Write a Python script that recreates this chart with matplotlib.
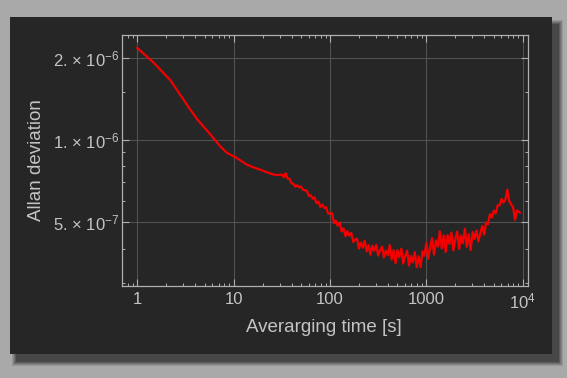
import matplotlib.pyplot as plt
from matplotlib.patches import Rectangle
from matplotlib.ticker import FixedLocator, NullFormatter

plt.rcParams["font.family"] = ["Liberation Sans", "DejaVu Sans"]
plt.rcParams["mathtext.fontset"] = "custom"
plt.rcParams["mathtext.rm"] = "Liberation Sans"
plt.rcParams["mathtext.it"] = "Liberation Sans:italic"
plt.rcParams["mathtext.bf"] = "Liberation Sans:bold"

# averaging time [s] and Allan deviation (in units of 1e-7)
tau_smooth = [1.0, 1.5, 2.2, 2.9, 3.5, 4.3, 5.7, 7.2, 8.5, 10.7, 13.6, 16.0, 18.7, 22.0, 25.6, 28.5]
adev_smooth = [21.7, 19.07, 16.54, 14.34, 12.99, 11.76, 10.50, 9.50, 8.97, 8.60, 8.13, 7.94, 7.79, 7.62, 7.48, 7.43]

tau_noisy = [
    31.6, 33.1, 34.7, 36.3, 38.0, 39.8, 41.7, 43.7, 45.7, 47.9,
    50.1, 52.5, 55.0, 57.5, 60.3, 63.1, 66.1, 69.2, 72.4, 75.9,
    79.4, 83.2, 87.1, 91.2, 95.5, 100, 105, 110, 115, 120,
    126, 132, 138, 145, 151, 158, 166, 174, 182, 191,
    200, 209, 219, 229, 240, 251, 263, 275, 288, 302,
    316, 331, 347, 363, 380, 398, 417, 437, 457, 479,
    501, 525, 550, 575, 603, 631, 661, 692, 724, 759,
    794, 832, 871, 912, 955, 1000, 1047, 1096, 1148, 1202,
    1259, 1318, 1380, 1445, 1514, 1585, 1660, 1738, 1820, 1905,
    1995, 2089, 2188, 2291, 2399, 2512, 2630, 2754, 2884, 3020,
    3162, 3311, 3467, 3631, 3802, 3981, 4169, 4365, 4571, 4786,
    5012, 5248, 5495, 5754, 6026, 6310, 6607, 6918, 7244, 7586,
    7943, 8318, 8710, 9120, 9330,
]
adev_noisy = [
    7.47, 7.30, 7.55, 7.22, 7.21, 6.94, 6.91, 6.74, 6.82, 6.70,
    6.75, 6.57, 6.54, 6.52, 6.23, 6.28, 6.09, 6.16, 5.87, 5.94,
    5.68, 5.80, 5.64, 5.68, 5.38, 5.37, 5.40, 4.96, 5.06, 4.85,
    4.99, 4.62, 4.75, 4.44, 4.64, 4.46, 4.57, 4.24, 4.31, 4.35,
    4.00, 4.21, 4.03, 4.28, 3.91, 4.12, 3.80, 4.10, 3.93, 4.13,
    3.78, 3.94, 4.07, 3.71, 3.94, 3.78, 4.12, 3.65, 3.95, 3.54,
    3.95, 3.72, 4.00, 3.53, 3.76, 3.93, 3.47, 3.76, 3.56, 3.88,
    3.42, 3.75, 3.42, 3.91, 3.77, 4.19, 3.67, 4.06, 4.37, 3.80,
    4.29, 4.07, 4.63, 4.01, 4.47, 3.89, 4.48, 4.16, 4.58, 3.94,
    4.32, 4.62, 3.99, 4.47, 4.19, 4.73, 4.06, 4.52, 3.95, 4.60,
    4.34, 4.66, 4.25, 4.55, 4.84, 4.50, 4.99, 4.92, 5.35, 5.20,
    5.51, 5.38, 5.77, 5.75, 6.08, 5.90, 6.04, 6.58, 5.98, 5.80,
    5.68, 5.10, 5.52, 5.45, 5.42,
]

x_ticks = [1, 10, 100, 1000, 10000]
x_tick_labels = ["1", "10", "100", "1000", "10$^{4}$"]
y_ticks = [5e-7, 1e-6, 2e-6]
y_tick_labels = ["5. × 10$^{-7}$", "1. × 10$^{-6}$", "2. × 10$^{-6}$"]
y_minor = [3e-7, 4e-7, 6e-7, 7e-7, 8e-7, 9e-7, 1.5e-6]

W, H = 567, 378
text_col = "#c4c4c4"
frame_col = "#b0b0b0"
panel_col = "#262626"

fig = plt.figure(figsize=(W / 100, H / 100), dpi=100)
fig.patch.set_facecolor("#a9a9a9")


def fig_rect(x0, y0, x1, y1, **kw):
    # pixel box measured from the top-left corner
    r = Rectangle((x0 / W, 1 - y1 / H), (x1 - x0) / W, (y1 - y0) / H,
                  transform=fig.transFigure, zorder=-5, **kw)
    fig.patches.append(r)


# soft drop shadow, then the dark panel
for grow, a in [(4, 0.10), (3, 0.12), (2, 0.15), (1, 0.18), (0, 0.22)]:
    fig_rect(16 - grow, 24 - grow, 559 + grow, 362 + grow, fc="black", ec="none", alpha=a)
fig_rect(10, 17, 552, 354, fc=panel_col, ec="none")

ax = fig.add_axes([121.7 / W, 1 - 286 / H, (528 - 121.7) / W, (286 - 35) / H])
ax.set_facecolor(panel_col)

tau = tau_smooth + tau_noisy
adev = [v * 1e-7 for v in adev_smooth + adev_noisy]
ax.plot(tau, adev, color="#f40000", lw=1.6, zorder=3)

ax.set_xscale("log")
ax.set_yscale("log")
ax.set_xlim(0.689, 11350)
ax.set_ylim(2.92e-7, 2.42e-6)

ax.set_xticks(x_ticks, x_tick_labels)
ax.set_yticks(y_ticks, y_tick_labels)
ax.yaxis.set_minor_locator(FixedLocator(y_minor))
ax.yaxis.set_minor_formatter(NullFormatter())
ax.xaxis.set_minor_formatter(NullFormatter())

ax.grid(True, which="major", color="#505050", lw=0.8, zorder=0)
for s in ax.spines.values():
    s.set_color(frame_col)
    s.set_linewidth(0.9)
ax.tick_params(which="both", direction="in", top=True, right=True,
               colors=frame_col, labelcolor=text_col, labelsize=12)
ax.tick_params(which="major", length=5, width=0.8)
ax.tick_params(which="minor", length=2.5, width=0.7)
ax.tick_params(axis="x", pad=4)
ax.tick_params(axis="y", pad=2)

ax.set_xlabel("Averarging time [s]", color=text_col, fontsize=13.5)
ax.set_ylabel("Allan deviation", color=text_col, fontsize=13.5)
ax.xaxis.set_label_coords(0.498, -0.13)
ax.yaxis.set_label_coords(-0.19, 0.5)

fig.savefig("out.png", dpi=100, facecolor=fig.get_facecolor())
